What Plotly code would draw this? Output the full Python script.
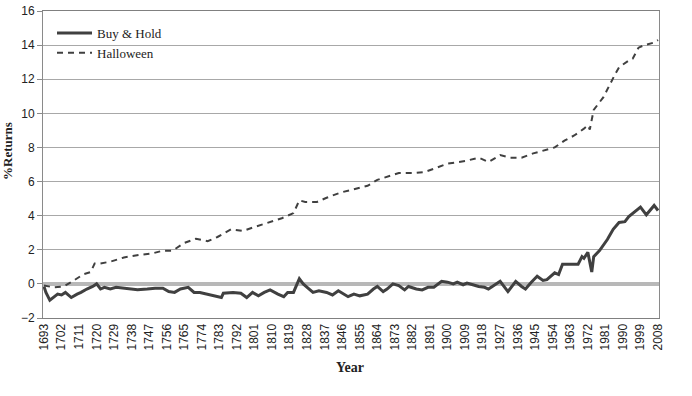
import plotly.graph_objects as go

bh_years = [1693, 1694, 1696, 1698, 1700, 1702, 1704, 1705, 1707, 1710, 1712, 1715, 1718, 1720,
            1722, 1724, 1727, 1730, 1734, 1738, 1741, 1746, 1750, 1754, 1757, 1760, 1763, 1767,
            1770, 1773, 1777, 1780, 1784, 1785, 1790, 1794, 1797, 1800, 1803, 1806, 1809, 1813,
            1816, 1818, 1821, 1824, 1826, 1828, 1831, 1834, 1838, 1841, 1844, 1849, 1852, 1855,
            1859, 1862, 1864, 1867, 1869, 1872, 1875, 1878, 1880, 1884, 1887, 1890, 1893, 1897,
            1900, 1903, 1905, 1908, 1910, 1913, 1916, 1919, 1921, 1923, 1927, 1931, 1934, 1935,
            1938, 1940, 1943, 1946, 1949, 1951, 1955, 1957, 1959, 1963, 1967, 1969, 1970, 1972,
            1974, 1975, 1978, 1982, 1985, 1988, 1991, 1993, 1996, 1999, 2002, 2006, 2008]
bh_values = [-0.15, -0.5, -0.95, -0.75, -0.6, -0.65, -0.5, -0.6, -0.8, -0.6, -0.5, -0.3, -0.15, 0.0,
             -0.3, -0.2, -0.3, -0.2, -0.25, -0.3, -0.35, -0.3, -0.25, -0.25, -0.45, -0.5, -0.3, -0.2,
             -0.5, -0.5, -0.6, -0.7, -0.8, -0.55, -0.5, -0.55, -0.8, -0.5, -0.7, -0.5, -0.35, -0.6,
             -0.75, -0.5, -0.5, 0.3, 0.0, -0.2, -0.5, -0.4, -0.5, -0.65, -0.4, -0.75, -0.6, -0.7,
             -0.6, -0.3, -0.15, -0.45, -0.3, 0.0, -0.1, -0.35, -0.15, -0.3, -0.35, -0.2, -0.2, 0.15,
             0.1, 0.0, 0.1, -0.05, 0.05, -0.05, -0.15, -0.2, -0.3, -0.15, 0.15, -0.45, -0.05, 0.15,
             -0.15, -0.3, 0.1, 0.45, 0.2, 0.25, 0.65, 0.55, 1.15, 1.15, 1.15, 1.6, 1.5, 1.85,
             0.7, 1.6, 1.95, 2.6, 3.2, 3.6, 3.65, 3.95, 4.25, 4.5, 4.05, 4.6, 4.3]

hw_years = [1693, 1698, 1703, 1707, 1713, 1717, 1719, 1722, 1727, 1734, 1742, 1749, 1754, 1759,
            1765, 1771, 1777, 1782, 1789, 1795, 1800, 1808, 1815, 1821, 1824, 1827, 1833, 1838,
            1845, 1852, 1859, 1864, 1869, 1875, 1883, 1888, 1893, 1900, 1909, 1916, 1921, 1927,
            1932, 1938, 1944, 1950, 1955, 1960, 1965, 1970, 1972, 1973, 1975, 1980, 1983, 1986,
            1988, 1993, 1995, 1998, 2001, 2006, 2008]
hw_values = [-0.1, -0.2, -0.15, 0.1, 0.55, 0.7, 1.2, 1.2, 1.3, 1.55, 1.7, 1.8, 1.95, 1.95,
             2.4, 2.65, 2.5, 2.75, 3.2, 3.1, 3.3, 3.6, 3.85, 4.15, 4.9, 4.8, 4.8, 5.05,
             5.35, 5.55, 5.75, 6.1, 6.3, 6.5, 6.5, 6.55, 6.75, 7.05, 7.2, 7.4, 7.15, 7.55,
             7.4, 7.4, 7.65, 7.85, 8.0, 8.4, 8.7, 9.1, 9.3, 9.05, 10.2, 10.95, 11.65, 12.3,
             12.7, 13.1, 13.2, 13.85, 14.0, 14.15, 14.3]

x_ticks = list(range(1693, 2009, 9))
y_ticks = [-2, 0, 2, 4, 6, 8, 10, 12, 14, 16]

serif = "Liberation Serif, Times New Roman, serif"
sans = "Liberation Sans, Arial, sans-serif"

W, H = 692, 396
ML, MR, MT, MB = 43, 33, 11, 78
pw, ph = W - ML - MR, H - MT - MB

fig = go.Figure()
fig.add_trace(go.Scatter(x=bh_years, y=bh_values, mode="lines", name="Buy & Hold",
                         line=dict(color="#404040", width=3)))
fig.add_trace(go.Scatter(x=hw_years, y=hw_values, mode="lines", name="Halloween",
                         line=dict(color="#404040", width=2, dash="6px,5px")))

fig.update_layout(
    width=W, height=H,
    margin=dict(l=ML, r=MR, t=MT, b=MB, autoexpand=False),
    paper_bgcolor="white", plot_bgcolor="white",
    showlegend=True,
    legend=dict(x=(52 - ML) / pw, y=(H - MB - 18) / ph, xanchor="left", yanchor="top",
                font=dict(family=serif, size=13, color="#222"),
                bgcolor="rgba(0,0,0,0)", itemwidth=35, tracegroupgap=0),
    xaxis=dict(range=[1692.5, 2008.5], tickvals=x_ticks, ticktext=[str(v) for v in x_ticks],
               tickangle=-90, tickfont=dict(family=sans, size=12, color="#222"),
               showgrid=False, zeroline=False, showline=True, linecolor="#808080",
               linewidth=1, mirror=True, ticks="", automargin=False),
    yaxis=dict(range=[-2, 16], tickvals=y_ticks, tickfont=dict(family=sans, size=12, color="#222"),
               showgrid=True, gridcolor="#a8a8a8", gridwidth=1,
               zeroline=True, zerolinecolor="#b8b8b8", zerolinewidth=4,
               showline=True, linecolor="#8a8a8a", linewidth=1, mirror=True,
               ticks="outside", ticklen=5, tickcolor="#8a8a8a", automargin=False),
    annotations=[
        dict(text="<b>%Returns</b>", x=(7 - ML) / pw, y=(H - MB - 151) / ph,
             xref="paper", yref="paper", xanchor="center", yanchor="middle",
             showarrow=False, textangle=-90, font=dict(family=serif, size=13, color="#222")),
        dict(text="<b>Year</b>", x=(350 - ML) / pw, y=(H - MB - 367) / ph,
             xref="paper", yref="paper", xanchor="center", yanchor="middle",
             showarrow=False, font=dict(family=serif, size=14, color="#222")),
    ],
)

fig.write_html("out.html", config={"displayModeBar": False},
               post_script="document.body.style.margin='0';document.body.style.overflow='hidden';")
